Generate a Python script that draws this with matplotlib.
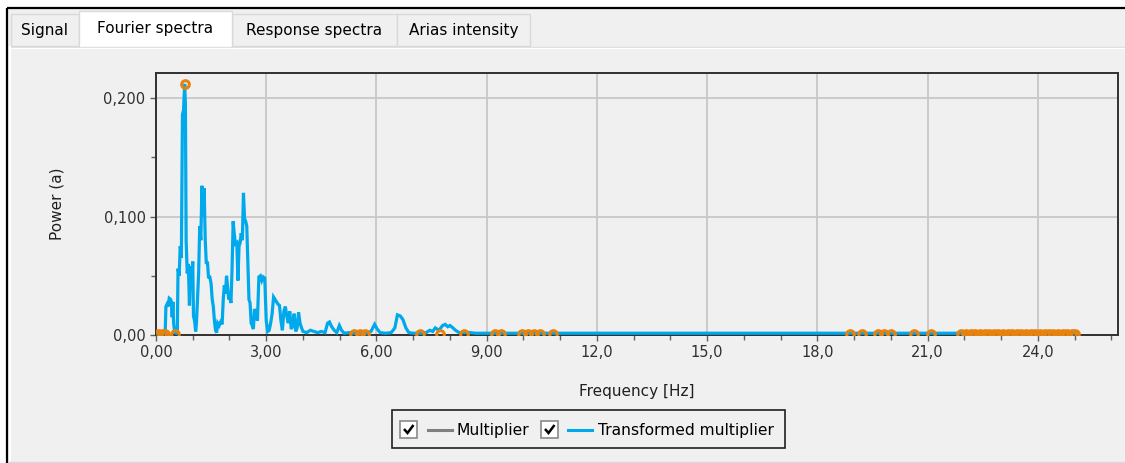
import matplotlib
matplotlib.use("Agg")
import matplotlib.pyplot as plt
from matplotlib.patches import Rectangle
from matplotlib.ticker import MultipleLocator, FixedLocator

# ---------------- data ----------------
tabs = ["Signal", "Fourier spectra", "Response spectra", "Arias intensity"]
x_label = "Frequency [Hz]"
y_label = "Power (a)"
legend_labels = ["Multiplier", "Transformed multiplier"]

x_ticks = [0, 3, 6, 9, 12, 15, 18, 21, 24]
x_tick_labels = ["0,00", "3,00", "6,00", "9,00", "12,0", "15,0", "18,0", "21,0", "24,0"]
y_ticks = [0.0, 0.1, 0.2]
y_tick_labels = ["0,00", "0,100", "0,200"]

freq = [0.00, 0.05, 0.10, 0.15, 0.20, 0.25, 0.27, 0.30, 0.33, 0.36, 0.40, 0.42, 0.44, 0.46,
        0.48, 0.51, 0.55, 0.58, 0.60, 0.63, 0.66, 0.69, 0.72, 0.75, 0.78, 0.80, 0.82, 0.85,
        0.88, 0.91, 0.94, 0.97, 1.00, 1.02, 1.05, 1.08, 1.10, 1.13, 1.16, 1.19, 1.22, 1.25,
        1.28, 1.31, 1.34, 1.37, 1.40, 1.43, 1.46, 1.50, 1.53, 1.56, 1.59, 1.62, 1.65, 1.68,
        1.72, 1.76, 1.80, 1.83, 1.86, 1.89, 1.92, 1.95, 1.98, 2.01, 2.04, 2.07, 2.10, 2.13,
        2.16, 2.20, 2.23, 2.26, 2.29, 2.32, 2.35, 2.38, 2.41, 2.44, 2.47, 2.50, 2.53, 2.56,
        2.59, 2.62, 2.65, 2.68, 2.72, 2.76, 2.80, 2.84, 2.88, 2.92, 2.96, 3.00, 3.04, 3.08,
        3.12, 3.16, 3.20, 3.24, 3.28, 3.32, 3.36, 3.40, 3.44, 3.48, 3.52, 3.56, 3.60, 3.64,
        3.68, 3.72, 3.76, 3.80, 3.84, 3.88, 3.92, 3.96, 4.00, 4.10, 4.20, 4.30, 4.40, 4.50,
        4.60, 4.67, 4.72, 4.78, 4.85, 4.92, 4.99, 5.05, 5.12, 5.25, 5.40, 5.55, 5.72, 5.85,
        5.95, 6.02, 6.10, 6.25, 6.40, 6.50, 6.57, 6.65, 6.72, 6.80, 6.88, 7.00, 7.20, 7.35,
        7.45, 7.53, 7.60, 7.70, 7.80, 7.87, 7.94, 8.00, 8.08, 8.15, 8.25, 8.40, 8.55, 8.70,
        8.90, 9.50, 11.0, 13.0, 15.0, 17.0, 19.0, 21.0, 23.0, 25.0]
power = [0.0010, 0.0010, 0.0010, 0.0010, 0.0012, 0.0020, 0.024, 0.026, 0.024, 0.031, 0.030, 0.027, 0.015, 0.028,
         0.010, 0.002, 0.0015, 0.003, 0.056, 0.050, 0.075, 0.065, 0.186, 0.190, 0.212, 0.195, 0.080, 0.052,
         0.060, 0.025, 0.058, 0.045, 0.062, 0.016, 0.012, 0.003, 0.010, 0.030, 0.052, 0.092, 0.080, 0.126,
         0.100, 0.124, 0.080, 0.060, 0.062, 0.048, 0.050, 0.043, 0.030, 0.024, 0.012, 0.004, 0.002, 0.010,
         0.008, 0.011, 0.009, 0.030, 0.042, 0.035, 0.050, 0.040, 0.030, 0.032, 0.027, 0.056, 0.096, 0.085,
         0.077, 0.078, 0.046, 0.075, 0.078, 0.086, 0.080, 0.120, 0.098, 0.096, 0.092, 0.060, 0.030, 0.027,
         0.010, 0.008, 0.005, 0.022, 0.018, 0.012, 0.049, 0.050, 0.046, 0.049, 0.048, 0.012, 0.003, 0.004,
         0.010, 0.018, 0.032, 0.030, 0.028, 0.026, 0.025, 0.012, 0.004, 0.020, 0.024, 0.016, 0.010, 0.020,
         0.005, 0.008, 0.018, 0.003, 0.006, 0.019, 0.010, 0.006, 0.003, 0.002, 0.004, 0.003, 0.002, 0.003,
         0.002, 0.010, 0.011, 0.007, 0.004, 0.002, 0.008, 0.004, 0.0015, 0.002, 0.0015, 0.0015, 0.0015, 0.003,
         0.009, 0.005, 0.002, 0.0015, 0.002, 0.006, 0.017, 0.016, 0.013, 0.006, 0.002, 0.0015, 0.0015, 0.002,
         0.004, 0.003, 0.006, 0.004, 0.008, 0.009, 0.007, 0.008, 0.006, 0.004, 0.002, 0.002, 0.002, 0.0015,
         0.0015, 0.0015, 0.0015, 0.0015, 0.0015, 0.0015, 0.0015, 0.0015, 0.0015, 0.0015]

marker_freq = [0.78, 0.05, 0.15, 0.25, 0.52, 5.40, 5.55, 5.70, 7.19, 7.74, 8.37, 9.22, 9.38,
               9.95, 10.12, 10.28, 10.45, 10.80, 18.88, 19.20, 19.65, 19.82, 20.00, 20.63, 21.10,
               21.92, 22.05, 22.18, 22.30, 22.42, 22.55, 22.68, 22.80, 22.92, 23.05, 23.18, 23.30,
               23.42, 23.55, 23.68, 23.80, 23.92, 24.05, 24.18, 24.30, 24.42, 24.55, 24.68, 24.80,
               24.92, 25.02]
marker_power = [0.212] + [0.001] * 50

# ---------------- figure ----------------
W, H = 1125, 463
fig = plt.figure(figsize=(W / 100, H / 100), dpi=100)
fig.patch.set_facecolor("white")
plt.rcParams["font.family"] = ["DejaVu Sans"]

bg = fig.add_axes([0, 0, 1, 1])
bg.set_xlim(0, W)
bg.set_ylim(H, 0)
bg.axis("off")

panel_gray = "#F0F0F0"
bg.add_patch(Rectangle((7, 8), W - 7, H - 8, facecolor=panel_gray, edgecolor="none"))
bg.plot([7, W], [8, 8], color="black", lw=1.6, solid_capstyle="butt")
bg.plot([7, 7], [8, H], color="black", lw=1.6, solid_capstyle="butt")
bg.plot([9, W], [46.5, 46.5], color="#D9D9D9", lw=1)
bg.plot([9, W], [47.5, 47.5], color="white", lw=1)
bg.plot([9.5, 9.5], [47, 461], color="white", lw=1.5)
bg.plot([9, W], [461.5, 461.5], color="#DADADA", lw=1)

tab_fs = 11
tab_x = [(11, 79), (79, 232), (232, 397), (397, 530)]
for i, (name, (x0, x1)) in enumerate(zip(tabs, tab_x)):
    if i == 1:
        continue
    bg.add_patch(Rectangle((x0, 14), x1 - x0, 32, facecolor=panel_gray, edgecolor="#D9D9D9", lw=1))
    bg.text((x0 + x1) / 2, 31, name, ha="center", va="center", fontsize=tab_fs, color="black")
x0, x1 = tab_x[1]
bg.add_patch(Rectangle((x0, 11), x1 - x0, 36.5, facecolor="white", edgecolor="#D9D9D9", lw=1))
bg.add_patch(Rectangle((x0 + 1, 45), x1 - x0 - 2, 4, facecolor="white", edgecolor="none"))
bg.text((x0 + x1) / 2, 28.5, tabs[1], ha="center", va="center", fontsize=tab_fs, color="black")

# legend box
bg.add_patch(Rectangle((392, 410), 393, 38, facecolor=panel_gray, edgecolor="#202020", lw=1.2))
def checkbox(x, y):
    bg.add_patch(Rectangle((x, y), 17, 17, facecolor="white", edgecolor="#8A8A8A", lw=1.2))
    bg.plot([x + 4, x + 7.5, x + 13.5], [y + 8.5, y + 12.5, y + 4.5], color="black", lw=1.8,
            solid_capstyle="butt", solid_joinstyle="miter")
checkbox(400, 420.5)
bg.plot([428, 452], [429.5, 429.5], color="#808080", lw=2.2)
bg.text(457, 430, legend_labels[0], ha="left", va="center", fontsize=11.2, color="black")
checkbox(541, 420.5)
bg.plot([568, 592], [429.5, 429.5], color="#00A8EC", lw=2.2)
bg.text(598, 430, legend_labels[1], ha="left", va="center", fontsize=11.2, color="black")

# ---------------- main axes ----------------
L, R, T, B = 156, 1118, 73, 335
ax = fig.add_axes([L / W, 1 - B / H, (R - L) / W, (B - T) / H])
ax.set_facecolor(panel_gray)
ax.set_xlim(0, 26.18)
ax.set_ylim(0, 0.2212)

ax.plot(freq, power, color="#00A8EC", lw=2.3, zorder=3, solid_joinstyle="miter")
ax.plot(marker_freq, marker_power, linestyle="none", marker="o", ms=5.5, mew=2.2,
        mfc="none", mec="#E8820C", zorder=4)

ax.xaxis.set_major_locator(FixedLocator(x_ticks))
ax.set_xticklabels(x_tick_labels)
ax.xaxis.set_minor_locator(MultipleLocator(1))
ax.yaxis.set_major_locator(FixedLocator(y_ticks))
ax.set_yticklabels(y_tick_labels)
ax.yaxis.set_minor_locator(MultipleLocator(0.05))

ax.grid(True, which="major", color="#C8C8C8", lw=1.3)
ax.set_axisbelow(True)
for s in ax.spines.values():
    s.set_color("#303030")
    s.set_linewidth(1.4)
ax.tick_params(which="major", direction="out", length=4.5, width=1, color="#606060",
               labelsize=10.5, labelcolor="#303030", pad=3)
ax.tick_params(which="minor", direction="out", length=3.5, width=1, color="#606060")

ax.set_xlabel(x_label, fontsize=11, color="#202020")
ax.xaxis.set_label_coords((637 - L) / (R - L), (B - 384) / (B - T))
ax.set_ylabel(y_label, fontsize=11, color="#202020")
ax.yaxis.set_label_coords((64 - L) / (R - L), 0.5)

fig.savefig("out.png", dpi=100, facecolor=fig.get_facecolor())
